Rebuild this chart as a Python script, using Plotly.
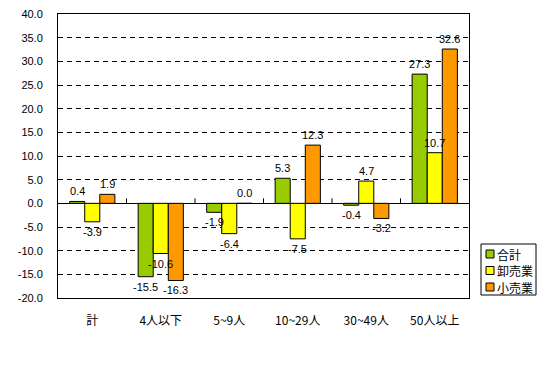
import plotly.graph_objects as go

categories = ["計", "4人以下", "5~9人", "10~29人", "30~49人", "50人以上"]
total = [0.4, -15.5, -1.9, 5.3, -0.4, 27.3]
wholesale = [-3.9, -10.6, -6.4, -7.5, 4.7, 10.7]
retail = [1.9, -16.3, 0.0, 12.3, -3.2, 32.6]
series_names = ["合計", "卸売業", "小売業"]
colors = ["#99CC00", "#FFFF00", "#FF9900"]
y_ticks = [40, 35, 30, 25, 20, 15, 10, 5, 0, -5, -10, -15, -20]

FONT = "Liberation Sans, Noto Sans CJK JP, sans-serif"
JFONT = "Noto Sans CJK JP, sans-serif"
PAGE_OFF = 8  # default body margin of the html page
W, H = 545 - PAGE_OFF, 388 - PAGE_OFF
ML, MR, MT, MB = 58 - PAGE_OFF, 76, 14 - PAGE_OFF, 90
BARGAP = 0.34

PLOT_L, PLOT_R = 58, 545 - MR  # window pixels
PLOT_T, PLOT_B = 14, 388 - MB
def px_x(p):
    return (p - PLOT_L) / (PLOT_R - PLOT_L)
def px_y(p):
    return (PLOT_B - p) / (PLOT_B - PLOT_T)

fig = go.Figure()
all_series = [total, wholesale, retail]
for name, vals, col in zip(series_names, all_series, colors):
    fig.add_trace(go.Bar(
        x=list(range(len(categories))), y=vals, name=name,
        marker=dict(color=col, line=dict(color="black", width=1)),
        showlegend=False,
    ))

# value labels as annotations (drawn above all bars)
n = len(all_series)
cat_px = (PLOT_R - PLOT_L) / len(categories)
bar_px = cat_px * (1 - BARGAP) / n
annotations = []
for k, vals in enumerate(all_series):
    for i, v in enumerate(vals):
        annotations.append(dict(
            x=i, y=v, xref="x", yref="y", text=f"{v:.1f}", showarrow=False,
            xshift=(k - (n - 1) / 2) * bar_px,
            yanchor="bottom" if v >= 0 else "top",
            yshift=2 if v >= 0 else -2,
            font=dict(size=11, color="black", family=FONT),
        ))

shapes = []
for i in range(len(categories) - 1):
    shapes.append(dict(type="line", xref="x", yref="y", x0=i + 0.5, x1=i + 0.5,
                       ysizemode="pixel", yanchor=0, y0=0, y1=5,
                       line=dict(color="black", width=1)))

# legend box (compact, like the original)
shapes.append(dict(type="rect", xref="paper", yref="paper",
                   x0=px_x(481), x1=px_x(536), y0=px_y(295), y1=px_y(244),
                   line=dict(color="black", width=1), fillcolor="white"))
for k, (name, col) in enumerate(zip(series_names, colors)):
    yc = 254 + k * 16.5
    shapes.append(dict(type="rect", xref="paper", yref="paper",
                       x0=px_x(486), x1=px_x(494), y0=px_y(yc + 4), y1=px_y(yc - 4),
                       line=dict(color="black", width=1), fillcolor=col))
    annotations.append(dict(x=px_x(495), y=px_y(yc), xref="paper", yref="paper",
                            text=name, showarrow=False, xanchor="left", yanchor="middle",
                            font=dict(size=12, family=JFONT, color="black")))

fig.update_layout(
    width=W, height=H,
    margin=dict(l=ML, r=MR, t=MT, b=MB, autoexpand=False),
    paper_bgcolor="white", plot_bgcolor="white",
    barmode="group", bargap=BARGAP, bargroupgap=0,
    font=dict(family=FONT, size=11, color="black"),
    showlegend=False,
    shapes=shapes,
    annotations=annotations,
    xaxis=dict(tickmode="array", tickvals=list(range(len(categories))), ticktext=categories,
               range=[-0.5, len(categories) - 0.5],
               showline=True, mirror=True, linecolor="black", linewidth=1,
               ticks="outside", ticklen=12, tickcolor="rgba(0,0,0,0)",
               tickfont=dict(size=12, family=JFONT), showgrid=False, zeroline=False),
    yaxis=dict(range=[-20, 40], tickmode="array", tickvals=y_ticks,
               ticktext=[f"{v:.1f}" for v in y_ticks], ticklabeloverflow="allow",
               ticklabelstandoff=12,
               showline=True, mirror=True, linecolor="black", linewidth=1,
               showgrid=True, gridcolor="black", gridwidth=1, griddash="5px,4px",
               zeroline=True, zerolinecolor="black", zerolinewidth=1,
               ticks="", tickfont=dict(size=11)),
)

fig.write_html("out.html")
